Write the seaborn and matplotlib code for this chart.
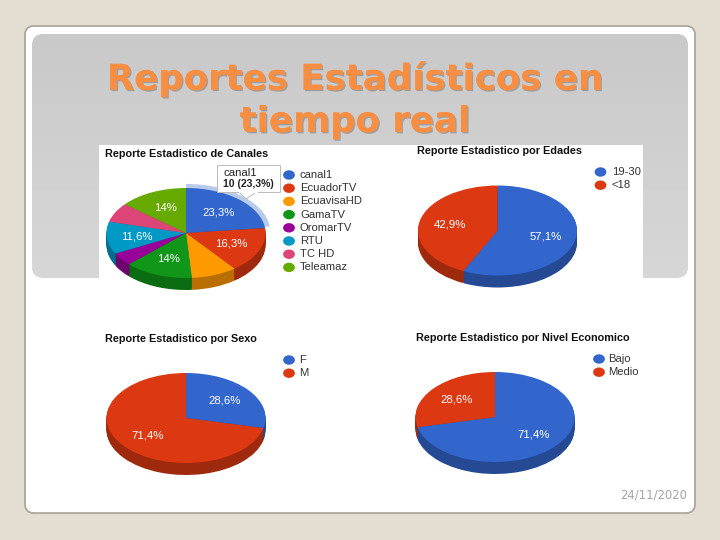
import matplotlib
matplotlib.use("Agg")
import matplotlib.pyplot as plt
import matplotlib.patheffects as pe
from matplotlib.patches import FancyBboxPatch, Polygon, Rectangle
from matplotlib.path import Path
from matplotlib.transforms import Affine2D
import numpy as np
import seaborn as sns

# data
canales = ["canal1", "EcuadorTV", "EcuavisaHD", "GamaTV", "OromarTV", "RTU", "TC HD", "Teleamaz"]
canales_val = [10, 7, 4, 6, 2, 5, 3, 6]
canales_pct = ["23,3%", "16,3%", "", "14%", "", "11,6%", "", "14%"]

edades = ["19-30", "<18"]
edades_val = [57.1, 42.9]
edades_pct = ["57,1%", "42,9%"]

sexo = ["F", "M"]
sexo_val = [28.6, 71.4]
sexo_pct = ["28,6%", "71,4%"]

nivel = ["Bajo", "Medio"]
nivel_val = [71.4, 28.6]
nivel_pct = ["71,4%", "28,6%"]

colores = ["#3366CC", "#DC3912", "#FF9900", "#109618", "#990099", "#0099C6", "#DD4477", "#66AA00"]

W, H = 720, 540
RX, RY, DEPTH = 79.5, 45.0, 12.0
XMAX, YTOP, YBOT = 1.05, 1.1, 1.45

sns.set_theme(style="white")
plt.rcParams["font.family"] = ["Liberation Sans", "DejaVu Sans"]

fig = plt.figure(figsize=(7.2, 5.4), dpi=100, facecolor="#E3DDD2")


def pixel_axes(zorder):
    ax = fig.add_axes([0, 0, 1, 1], zorder=zorder)
    ax.set_xlim(0, W)
    ax.set_ylim(H, 0)
    ax.axis("off")
    return ax


def round_box(ax, x0, y0, x1, y1, r, **kw):
    box = FancyBboxPatch((x0 + r, y0 + r), x1 - x0 - 2 * r, y1 - y0 - 2 * r,
                         boxstyle=f"round,pad={r},rounding_size={r}", **kw)
    ax.add_patch(box)
    return box


def darker(c, f=0.72):
    return tuple(v * f for v in matplotlib.colors.to_rgb(c))


def draw_pie(cx, cy, values, pct, hover=False):
    left = (cx - XMAX * RX) / W
    bottom = 1 - (cy + YBOT * RY) / H
    ax = fig.add_axes([left, bottom, 2 * XMAX * RX / W, (YTOP + YBOT) * RY / H], zorder=2)
    cols = colores[:len(values)]
    # side of the pie: stacked darker copies going down
    for off in np.linspace(DEPTH / RY, 0.02, 12):
        ax.pie(values, colors=[darker(c) for c in cols], startangle=90, counterclock=False,
               center=(0, -off), wedgeprops={"linewidth": 0})
    if hover:
        ring = ax.pie([values[0], sum(values) - values[0]], colors=["#B9CBEA", "none"], radius=1.06,
                      startangle=90, counterclock=False, wedgeprops={"linewidth": 0})
        ring[0][0].set_center((0.0, 0.03))
    wedges, texts = ax.pie(values, colors=cols, startangle=90, counterclock=False, labels=pct,
                           labeldistance=0.62, wedgeprops={"linewidth": 0},
                           textprops={"color": "white", "fontsize": 8.2})
    for t in texts:
        t.set_ha("center")
        t.set_va("center")
    ax.set_aspect("auto")
    ax.set_xlim(-XMAX, XMAX)
    ax.set_ylim(-YBOT, YTOP)
    return ax


def draw_legend(ax, labels, mx, y0, step, tx):
    ys = [y0 + i * step for i in range(len(labels))]
    oval = Path.unit_circle().transformed(Affine2D().scale(1.0, 0.8))
    sns.scatterplot(x=[mx] * len(labels), y=ys, hue=labels, hue_order=labels,
                    palette=colores[:len(labels)], marker=oval, s=72, linewidth=0,
                    legend=False, ax=ax)
    ax.set_xlim(0, W)
    ax.set_ylim(H, 0)
    ax.set_xlabel("")
    ax.set_ylabel("")
    for y, lab in zip(ys, labels):
        ax.text(tx, y, lab, fontsize=8.1, color="#333333", va="center", ha="left")


bg = pixel_axes(1)
top = pixel_axes(3)

# slide
round_box(bg, 25, 26, 695, 513, 9, facecolor="white", edgecolor="#A5A297", linewidth=1.2, zorder=1)
panel = round_box(bg, 32, 34, 688, 278, 11, facecolor="none", edgecolor="none", zorder=1)
shade = bg.imshow(np.linspace(0, 1, 64).reshape(-1, 1), extent=(32, 688, 278, 34), aspect="auto", zorder=1.5,
                  cmap=matplotlib.colors.LinearSegmentedColormap.from_list("gris", ["#C9C9C9", "#D7D7D7"]))
shade.set_clip_path(panel)
bg.set_xlim(0, W)
bg.set_ylim(H, 0)
bg.add_patch(Rectangle((99, 145), 544, 140, facecolor="white", edgecolor="none", zorder=2))

# title
for line, y in zip(["Reportes Estadísticos en", "tiempo real"], [79, 122]):
    bg.text(355, y, line, fontsize=25.6, fontweight="bold", family="DejaVu Sans", color="#F88E42",
            ha="center", va="center",
            path_effects=[pe.withSimplePatchShadow(offset=(1.0, -1.0), shadow_rgbFace="#9A9A9A", alpha=0.9),
                          pe.Normal()])

# chart titles
for x, y, t in [(105, 154, "Reporte Estadistico de Canales"), (417, 151, "Reporte Estadistico por Edades"),
                (105, 339, "Reporte Estadistico por Sexo"), (416, 338, "Reporte Estadistico por Nivel Economico")]:
    bg.text(x, y, t, fontsize=7.8, fontweight="bold", color="#111111", va="center", ha="left")

draw_pie(186, 233, canales_val, canales_pct, hover=True)
draw_pie(497.5, 230.5, edades_val, edades_pct)
draw_pie(186, 418, sexo_val, sexo_pct)
draw_pie(495, 417, nivel_val, nivel_pct)

draw_legend(top, canales, 289, 175, 13.2, 300)
draw_legend(top, edades, 600.5, 172, 13.2, 612)
draw_legend(top, sexo, 289, 360, 13.2, 299)
draw_legend(top, nivel, 599, 359, 13.2, 608)

# tooltip over the first chart
top.add_patch(Polygon([(238, 191), (246, 199), (258, 191)], facecolor="white", edgecolor="#BBBBBB", linewidth=0.7))
top.add_patch(Rectangle((217, 165), 63, 27, facecolor="white", edgecolor="#BBBBBB", linewidth=0.7))
top.add_patch(Rectangle((238.5, 190), 19, 2.5, facecolor="white", edgecolor="none"))
top.text(223, 173, "canal1", fontsize=8.2, color="#222222", va="center")
top.text(223, 184, "10 (23,3%)", fontsize=7.6, fontweight="bold", color="#222222", va="center")

# date
top.text(687, 495, "24/11/2020", fontsize=8.4, family="DejaVu Sans", color="#A5A5A5", ha="right", va="center")

fig.savefig("out.png", dpi=100, facecolor=fig.get_facecolor())
